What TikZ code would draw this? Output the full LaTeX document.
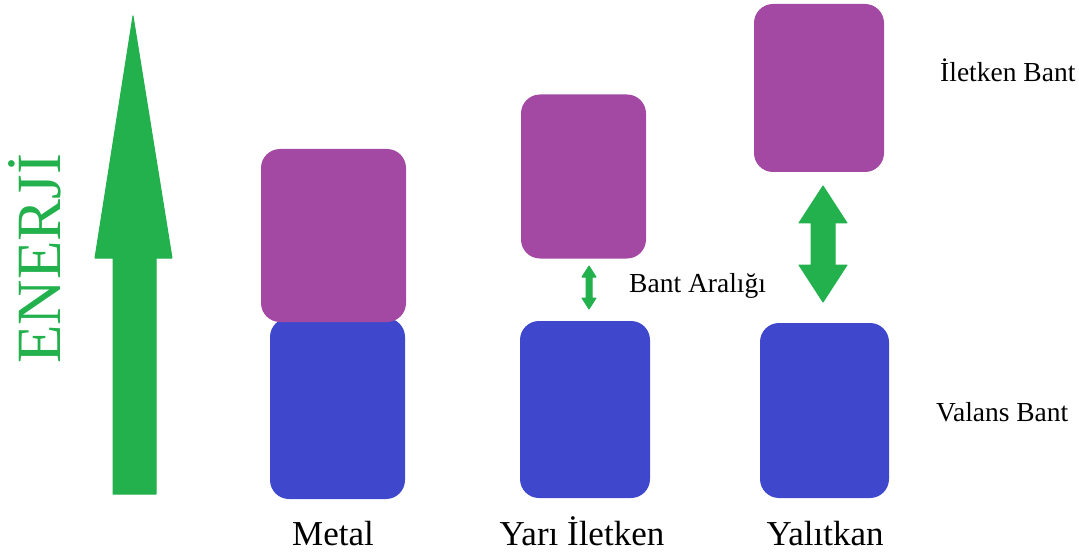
\documentclass[tikz,border=0pt]{standalone}
\usepackage{fontspec}
\setmainfont{Liberation Serif}
\definecolor{pgreen}{HTML}{22B14C}
\definecolor{ppurple}{HTML}{A349A4}
\definecolor{pblue}{HTML}{3F48CC}
\begin{document}
\begin{tikzpicture}[x=1pt,y=-1pt,
  band/.style={inner sep=0pt, rounded corners=19pt},
  cband/.style={band, fill=ppurple},
  vband/.style={band, fill=pblue},
  garrow/.style={fill=pgreen, draw=pgreen, line width=1pt, line join=round},
  lbl/.style={font=\fontsize{27.5}{32}\selectfont, anchor=base west, inner sep=0pt},
  cat/.style={font=\fontsize{35}{40}\selectfont, anchor=base, inner sep=0pt}]
\useasboundingbox (0,0) rectangle (1079,556);
% energy arrow
\draw[garrow] (133,16) -- (172,258) -- (156,258) -- (156,494) -- (113,494) -- (113,258) -- (95,258) -- cycle;
\node[rotate=90, anchor=base west, inner sep=0pt, text=pgreen, font=\fontsize{63}{70}\selectfont] (en) at (60,364) {ENERJİ};
% metal
\node[vband, minimum width=135pt, minimum height=181pt] (mv) at (337.5,408.5) {};
\node[cband, minimum width=145pt, minimum height=173pt] (mc) at (333.5,235.5) {};
% semiconductor
\node[vband, minimum width=130pt, minimum height=177pt] (sv) at (585,409.5) {};
\node[cband, minimum width=125pt, minimum height=164pt] (sc) at (583.5,176.5) {};
% insulator
\node[vband, minimum width=129pt, minimum height=175pt] (iv) at (824.5,410.5) {};
\node[cband, minimum width=130pt, minimum height=168pt] (ic) at (819,88) {};
% gap arrows
\draw[garrow] (589,266) -- (596,277) -- (592,277) -- (592,298) -- (596,298) -- (589,309) -- (582,298) -- (586,298) -- (586,277) -- (582,277) -- cycle;
\draw[garrow] (823,186) -- (847,223) -- (835,223) -- (835,265) -- (847,265) -- (823,302) -- (799,265) -- (811,265) -- (811,223) -- (799,223) -- cycle;
% labels
\node[lbl] (gap) at (629,292) {Bant Aralığı};
\node[lbl] (cbl) at (940,82) {İletken Bant};
\node[lbl] (vbl) at (936,421) {Valans Bant};
\node[cat] (lm) at (333,545) {Metal};
\node[cat] (ls) at (582,545) {Yarı İletken};
\node[cat] (li) at (825,545) {Yalıtkan};
\end{tikzpicture}
\end{document}
